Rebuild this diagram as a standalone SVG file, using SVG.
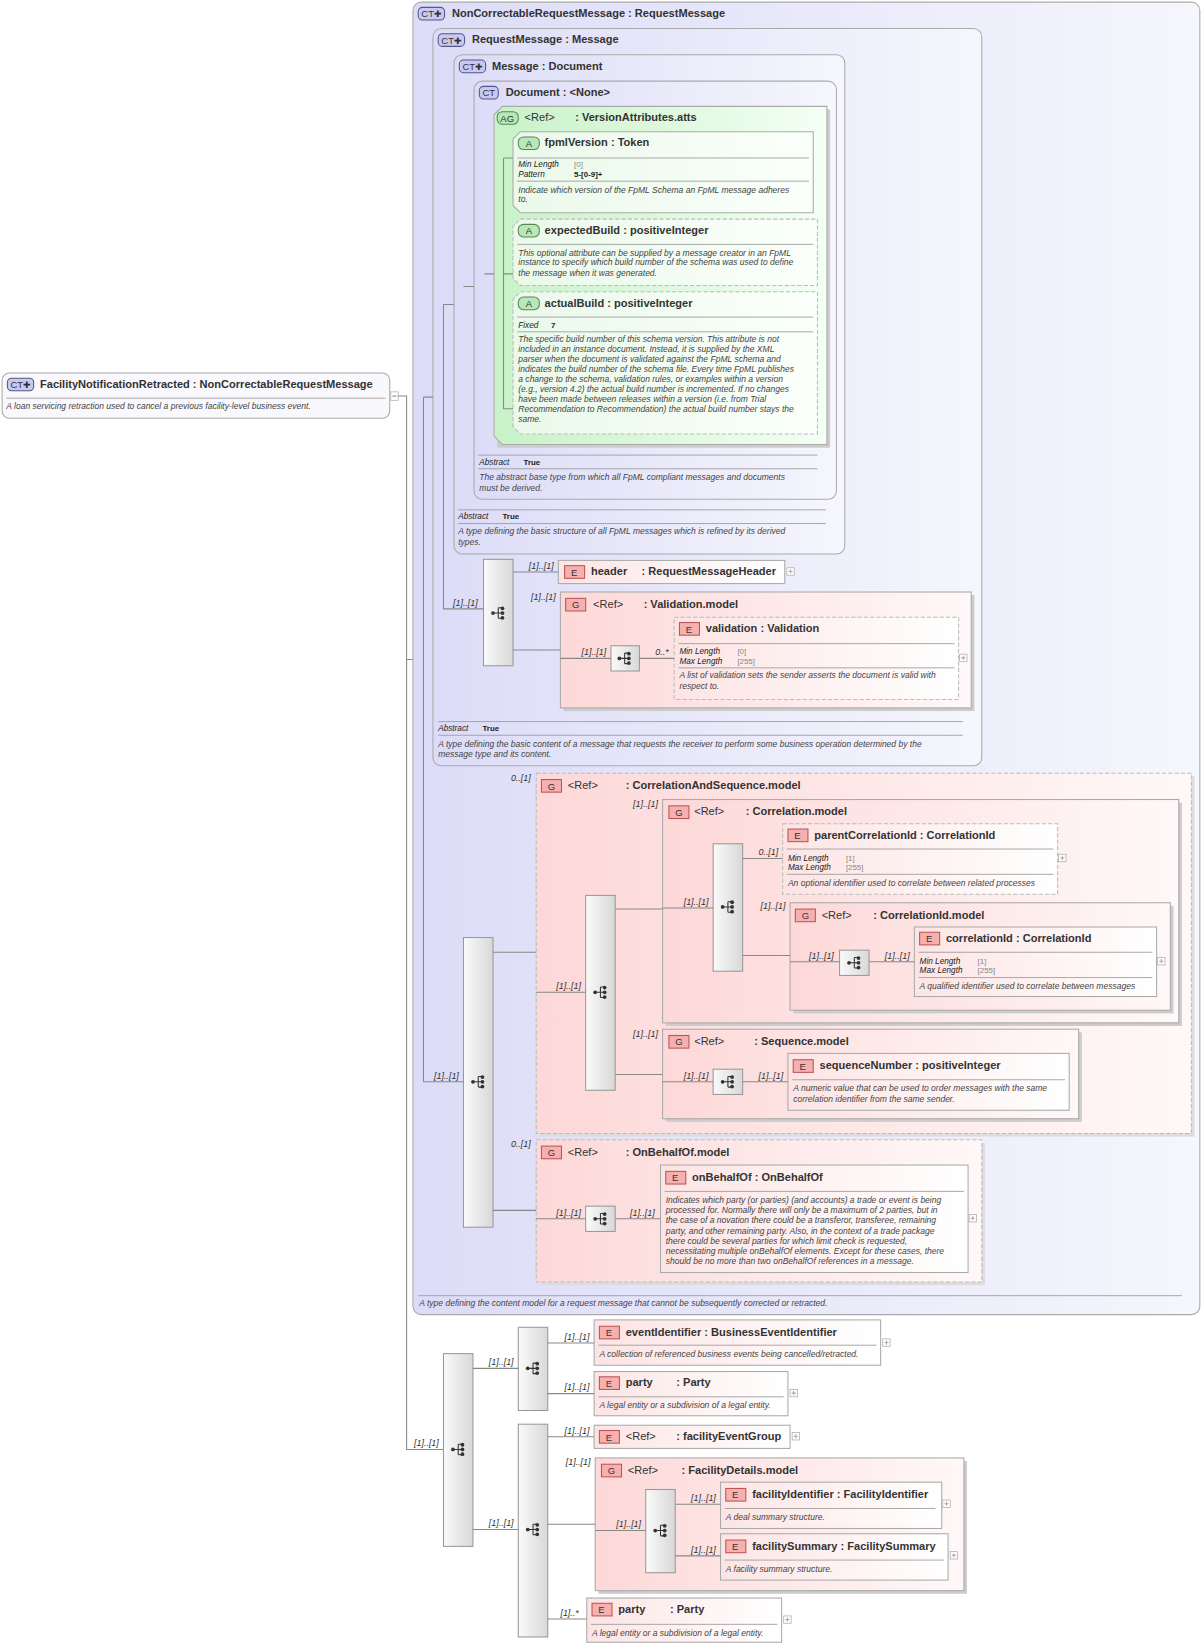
<svg xmlns="http://www.w3.org/2000/svg" width="1204" height="1650" viewBox="0 0 1204 1650">
<style>
text{font-family:"Liberation Sans",Arial,sans-serif;fill:#333}
.t{font-size:10.5px;font-weight:bold}
.d{font-size:8.1px;font-style:italic;fill:#444}
.k{font-size:7.8px;font-style:italic;fill:#222}
.v{font-size:7.5px;fill:#888}
.vb{font-size:7.5px;font-weight:bold;fill:#222}
.l{font-size:8.5px;font-style:italic;fill:#333}
.ct{fill:url(#gct);stroke:#aaa;stroke-width:1}
.ag{fill:url(#gag);stroke:#aaa}
.a{fill:url(#ga);stroke:#aaa}
.e{fill:url(#ge);stroke:#aaa}
.g{fill:url(#gg);stroke:#aaa}
.dash{stroke-dasharray:4,2;stroke:#bbb}
.s{fill:url(#gs);stroke:#999}
.sep{stroke:#999;stroke-width:0.8}
.c line,.c path{stroke:#888;stroke-width:1;fill:none}
.bE{fill:#f6b0b0;stroke:#b55}
.bA{fill:#b8e8b8;stroke:#585}
.bC{fill:#c8c8f0;stroke:#558}
.pl{fill:#fff;stroke:#aaa;stroke-width:.7}
.bt{font-size:9px;fill:#333}
</style>
<defs>
<linearGradient id="gct" x1="0" x2="1"><stop offset="0" stop-color="#dcdcf8"/><stop offset="1" stop-color="#f6f6fd"/></linearGradient>
<linearGradient id="gag" x1="0" x2="1"><stop offset="0" stop-color="#c8f2c8"/><stop offset="1" stop-color="#f4fff4"/></linearGradient>
<linearGradient id="ga" x1="0" x2="1"><stop offset="0" stop-color="#eaf9ea"/><stop offset="1" stop-color="#fbfffb"/></linearGradient>
<linearGradient id="ge" x1="0" x2="1"><stop offset="0" stop-color="#fde4e4"/><stop offset="1" stop-color="#ffffff"/></linearGradient>
<linearGradient id="gg" x1="0" x2="1"><stop offset="0" stop-color="#fdd8d8"/><stop offset="1" stop-color="#fff8f8"/></linearGradient>
<linearGradient id="gs" x1="0" x2="1"><stop offset="0" stop-color="#fafafa"/><stop offset="1" stop-color="#d8d8d8"/></linearGradient>
<symbol id="si" viewBox="0 0 14 12" width="14" height="12" overflow="visible"><circle cx="2" cy="6" r="1.8" fill="#333"/><path d="M2 6H7M7 1V11M7 1H10M7 6H10M7 11H10" stroke="#333" fill="none"/><circle cx="11" cy="1.5" r="1.8" fill="#333"/><circle cx="11" cy="6" r="1.8" fill="#333"/><circle cx="11" cy="10.5" r="1.8" fill="#333"/></symbol>
</defs>
<g transform="scale(1.0534)">
<g id="root">
<rect x="2" y="354" width="368" height="43" rx="7" style="fill:#f8f8fd;stroke:#aaa"/>
<rect x="7" y="359" width="25" height="12" rx="4" class="bC"/><text x="10" y="368.5" class="bt">CT✚</text>
<text x="38" y="368" class="t">FacilityNotificationRetracted : NonCorrectableRequestMessage</text>
<line x1="6" y1="378" x2="366" y2="378" class="sep"/>
<text x="6" y="388" class="d">A loan servicing retraction used to cancel a previous facility-level business event.</text>
<rect x="371" y="372" width="7" height="8" class="pl"/><path d="M372.5 376H376.5" stroke="#888"/>
</g>
<g id="NonCorrectableRequestMessage">
<rect x="392" y="2" width="747" height="1246" rx="8" class="ct"/>
<rect x="397" y="7" width="25" height="12" rx="4" class="bC"/><text x="400" y="16.5" class="bt">CT✚</text>
<text x="429" y="16" class="t">NonCorrectableRequestMessage : RequestMessage</text>
<line x1="397" y1="1230" x2="1122" y2="1230" class="sep"/>
<text x="398" y="1240" class="d">A type defining the content model for a request message that cannot be subsequently corrected or retracted.</text>
</g>
<g id="RequestMessage">
<rect x="411" y="27" width="521" height="700" rx="8" class="ct"/>
<rect x="416" y="32" width="25" height="12" rx="4" class="bC"/><text x="419" y="41.5" class="bt">CT✚</text>
<text x="448" y="41" class="t">RequestMessage : Message</text>
<line x1="416" y1="685" x2="914" y2="685" class="sep"/>
<text x="416" y="694" class="k">Abstract</text><text x="458" y="694" class="vb">True</text>
<line x1="416" y1="698" x2="914" y2="698" class="sep"/>
<text x="416" y="709" class="d">A type defining the basic content of a message that requests the receiver to perform some business operation determined by the</text>
<text x="416" y="719" class="d">message type and its content.</text>
</g>
<g id="Message">
<rect x="431" y="52" width="371" height="474" rx="8" class="ct"/>
<rect x="436" y="57" width="25" height="12" rx="4" class="bC"/><text x="439" y="66.5" class="bt">CT✚</text>
<text x="467" y="66" class="t">Message : Document</text>
<line x1="435" y1="484" x2="784" y2="484" class="sep"/>
<text x="435" y="493" class="k">Abstract</text><text x="477" y="493" class="vb">True</text>
<line x1="435" y1="497" x2="784" y2="497" class="sep"/>
<text x="435" y="507" class="d">A type defining the basic structure of all FpML messages which is refined by its derived</text>
<text x="435" y="517" class="d">types.</text>
</g>
<g id="Document">
<rect x="450" y="77" width="344" height="397" rx="8" class="ct"/>
<rect x="455" y="82" width="18" height="12" rx="4" class="bC"/><text x="458" y="91.5" class="bt">CT</text>
<text x="480" y="91" class="t">Document : &lt;None&gt;</text>
<line x1="454" y1="432" x2="776" y2="432" class="sep"/>
<text x="455" y="441" class="k">Abstract</text><text x="497" y="441" class="vb">True</text>
<line x1="454" y1="445" x2="776" y2="445" class="sep"/>
<text x="455" y="456" class="d">The abstract base type from which all FpML compliant messages and documents</text>
<text x="455" y="466" class="d">must be derived.</text>
</g>
<g id="VersionAttributes">
<rect x="472" y="104" width="316" height="321" fill="#ccc"/>
<path d="M477 101H785V422H477L469 414V109Z" class="ag"/>
<rect x="472" y="106" width="20" height="12" rx="5" class="bA"/><text x="475" y="115.5" class="bt">AG</text>
<text x="498" y="115" class="t" style="font-weight:normal">&lt;Ref&gt;</text><text x="546" y="115" class="t">: VersionAttributes.atts</text>
</g>
<g id="fpmlVersion">
<path d="M494 125H772V202H494L487 195V132Z" class="a"/>
<rect x="492" y="130" width="20" height="12" rx="5" class="bA"/><text x="499" y="139.5" class="bt">A</text>
<text x="517" y="139" class="t">fpmlVersion : Token</text>
<line x1="491" y1="150" x2="768" y2="150" class="sep"/>
<text x="492" y="159" class="k">Min Length</text><text x="545" y="159" class="v">[0]</text>
<text x="492" y="168" class="k">Pattern</text><text x="545" y="168" class="vb">5-[0-9]+</text>
<line x1="491" y1="172" x2="768" y2="172" class="sep"/>
<text x="492" y="183" class="d">Indicate which version of the FpML Schema an FpML message adheres</text>
<text x="492" y="192" class="d">to.</text>
</g>
<g id="expectedBuild">
<path d="M494 208H776V271H494L487 264V215Z" class="a dash"/>
<rect x="492" y="213" width="20" height="12" rx="5" class="bA"/><text x="499" y="222.5" class="bt">A</text>
<text x="517" y="222" class="t">expectedBuild : positiveInteger</text>
<line x1="491" y1="232" x2="772" y2="232" class="sep"/>
<text x="492" y="243" class="d">This optional attribute can be supplied by a message creator in an FpML</text>
<text x="492" y="252" class="d">instance to specify which build number of the schema was used to define</text>
<text x="492" y="262" class="d">the message when it was generated.</text>
</g>
<g id="actualBuild">
<path d="M494 277H776V412H494L487 405V284Z" class="a dash"/>
<rect x="492" y="282" width="20" height="12" rx="5" class="bA"/><text x="499" y="291.5" class="bt">A</text>
<text x="517" y="291" class="t">actualBuild : positiveInteger</text>
<line x1="491" y1="301" x2="772" y2="301" class="sep"/>
<text x="492" y="311" class="k">Fixed</text><text x="523" y="311" class="vb">7</text>
<line x1="491" y1="315" x2="772" y2="315" class="sep"/>
<text x="492" y="325" class="d">The specific build number of this schema version. This attribute is not</text>
<text x="492" y="334.5" class="d">included in an instance document. Instead, it is supplied by the XML</text>
<text x="492" y="344" class="d">parser when the document is validated against the FpML schema and</text>
<text x="492" y="353.5" class="d">indicates the build number of the schema file. Every time FpML publishes</text>
<text x="492" y="363" class="d">a change to the schema, validation rules, or examples within a version</text>
<text x="492" y="372.5" class="d">(e.g., version 4.2) the actual build number is incremented. If no changes</text>
<text x="492" y="382" class="d">have been made between releases within a version (i.e. from Trial</text>
<text x="492" y="391.5" class="d">Recommendation to Recommendation) the actual build number stays the</text>
<text x="492" y="401" class="d">same.</text>
</g>
<g id="seqRM"><rect x="459" y="531" width="28" height="101" class="s"/><use href="#si" x="466" y="576"/><text x="430" y="575" class="l">[1]..[1]</text></g>
<g id="header">
<text x="502" y="540" class="l">[1]..[1]</text>
<rect x="530" y="532" width="215" height="22" class="e"/>
<rect x="536" y="537" width="19" height="12" class="bE"/><text x="542" y="546.5" class="bt">E</text>
<text x="561" y="546" class="t">header</text><text x="609" y="546" class="t">: RequestMessageHeader</text>
<rect x="747" y="539" width="7" height="7" class="pl"/><path d="M748.5 542.5H752.5M750.5 540.5V544.5" stroke="#aaa"/>
</g>
<g id="ValidationModel">
<text x="504" y="570" class="l">[1]..[1]</text>
<rect x="535" y="565" width="390" height="110" fill="#ccc"/>
<rect x="532" y="562" width="390" height="110" class="g"/>
<rect x="537" y="568" width="19" height="12" class="bE"/><text x="543" y="577.5" class="bt">G</text>
<text x="563" y="577" class="t" style="font-weight:normal">&lt;Ref&gt;</text><text x="611" y="577" class="t">: Validation.model</text>
<rect x="580" y="613" width="27" height="24" class="s"/><use href="#si" x="586" y="619"/>
<text x="552" y="622" class="l">[1]..[1]</text><text x="622" y="622" class="l">0..*</text>
<rect x="640" y="586" width="270" height="78" class="e dash"/>
<rect x="645" y="591" width="19" height="12" class="bE"/><text x="651" y="600.5" class="bt">E</text>
<text x="670" y="600" class="t">validation : Validation</text>
<line x1="644" y1="611" x2="906" y2="611" class="sep"/>
<text x="645" y="621" class="k">Min Length</text><text x="700" y="621" class="v">[0]</text>
<text x="645" y="630" class="k">Max Length</text><text x="700" y="630" class="v">[255]</text>
<line x1="644" y1="634" x2="906" y2="634" class="sep"/>
<text x="645" y="644" class="d">A list of validation sets the sender asserts the document is valid with</text>
<text x="645" y="654" class="d">respect to.</text>
<rect x="911" y="621" width="7" height="7" class="pl"/><path d="M912.5 624.5H916.5M914.5 622.5V626.5" stroke="#aaa"/>
</g>
<g id="seqNCR"><rect x="440" y="890" width="28" height="275" class="s"/><use href="#si" x="447" y="1021"/><text x="412" y="1024" class="l">[1]..[1]</text></g>
<g id="CorrelationAndSequence">
<text x="485" y="741" class="l">0..[1]</text>
<rect x="512" y="737" width="622" height="342" fill="#ddd"/>
<rect x="509" y="734" width="622" height="342" class="g dash"/>
<rect x="514" y="740" width="19" height="12" class="bE"/><text x="520" y="749.5" class="bt">G</text>
<text x="539" y="749" class="t" style="font-weight:normal">&lt;Ref&gt;</text><text x="594" y="749" class="t">: CorrelationAndSequence.model</text>
<rect x="556" y="850" width="28" height="185" class="s"/><use href="#si" x="563" y="936"/>
<text x="528" y="939" class="l">[1]..[1]</text>
</g>
<g id="CorrelationModel">
<text x="601" y="766" class="l">[1]..[1]</text>
<rect x="632" y="762" width="490" height="212" fill="#ccc"/>
<rect x="629" y="759" width="490" height="212" class="g"/>
<rect x="635" y="765" width="19" height="12" class="bE"/><text x="641" y="774.5" class="bt">G</text>
<text x="659" y="774" class="t" style="font-weight:normal">&lt;Ref&gt;</text><text x="708" y="774" class="t">: Correlation.model</text>
<rect x="677" y="801" width="28" height="121" class="s"/><use href="#si" x="684" y="855"/>
<text x="649" y="859" class="l">[1]..[1]</text>
<text x="720" y="812" class="l">0..[1]</text><text x="722" y="863" class="l">[1]..[1]</text>
</g>
<g id="parentCorrelationId">
<rect x="743" y="782" width="261" height="67" class="e dash"/>
<rect x="748" y="787" width="19" height="12" class="bE"/><text x="754" y="796.5" class="bt">E</text>
<text x="773" y="796" class="t">parentCorrelationId : CorrelationId</text>
<line x1="747" y1="806" x2="1000" y2="806" class="sep"/>
<text x="748" y="817" class="k">Min Length</text><text x="803" y="817" class="v">[1]</text>
<text x="748" y="826" class="k">Max Length</text><text x="803" y="826" class="v">[255]</text>
<line x1="747" y1="830" x2="1000" y2="830" class="sep"/>
<text x="748" y="841" class="d">An optional identifier used to correlate between related processes</text>
<rect x="1005" y="811" width="7" height="7" class="pl"/><path d="M1006.5 814.5H1010.5M1008.5 812.5V816.5" stroke="#aaa"/>
</g>
<g id="CorrelationIdModel">
<rect x="753" y="860" width="361" height="102" fill="#ccc"/>
<rect x="750" y="857" width="361" height="102" class="g"/>
<rect x="755" y="863" width="19" height="12" class="bE"/><text x="761" y="872.5" class="bt">G</text>
<text x="780" y="872" class="t" style="font-weight:normal">&lt;Ref&gt;</text><text x="829" y="872" class="t">: CorrelationId.model</text>
<rect x="797" y="902" width="28" height="24" class="s"/><use href="#si" x="804" y="908"/>
<text x="768" y="910" class="l">[1]..[1]</text><text x="840" y="910" class="l">[1]..[1]</text>
</g>
<g id="correlationId">
<rect x="868" y="880" width="230" height="66" class="e"/>
<rect x="873" y="885" width="19" height="12" class="bE"/><text x="879" y="894.5" class="bt">E</text>
<text x="898" y="894" class="t">correlationId : CorrelationId</text>
<line x1="872" y1="904" x2="1094" y2="904" class="sep"/>
<text x="873" y="915" class="k">Min Length</text><text x="928" y="915" class="v">[1]</text>
<text x="873" y="924" class="k">Max Length</text><text x="928" y="924" class="v">[255]</text>
<line x1="872" y1="928" x2="1094" y2="928" class="sep"/>
<text x="873" y="939" class="d">A qualified identifier used to correlate between messages</text>
<rect x="1099" y="909" width="7" height="7" class="pl"/><path d="M1100.5 912.5H1104.5M1102.5 910.5V914.5" stroke="#aaa"/>
</g>
<g id="SequenceModel">
<text x="601" y="984" class="l">[1]..[1]</text>
<rect x="632" y="980" width="395" height="85" fill="#ccc"/>
<rect x="629" y="977" width="395" height="85" class="g"/>
<rect x="635" y="983" width="19" height="12" class="bE"/><text x="641" y="992.5" class="bt">G</text>
<text x="659" y="992" class="t" style="font-weight:normal">&lt;Ref&gt;</text><text x="716" y="992" class="t">: Sequence.model</text>
<rect x="677" y="1015" width="28" height="24" class="s"/><use href="#si" x="684" y="1021"/>
<text x="649" y="1024" class="l">[1]..[1]</text><text x="720" y="1024" class="l">[1]..[1]</text>
<rect x="748" y="1000" width="267" height="54" class="e"/>
<rect x="753" y="1006" width="19" height="12" class="bE"/><text x="759" y="1015.5" class="bt">E</text>
<text x="778" y="1015" class="t">sequenceNumber : positiveInteger</text>
<line x1="752" y1="1025" x2="1011" y2="1025" class="sep"/>
<text x="753" y="1036" class="d">A numeric value that can be used to order messages with the same</text>
<text x="753" y="1046" class="d">correlation identifier from the same sender.</text>
</g>
<g id="OnBehalfOfModel">
<text x="485" y="1089" class="l">0..[1]</text>
<rect x="512" y="1085" width="423" height="135" fill="#ddd"/>
<rect x="509" y="1082" width="423" height="135" class="g dash"/>
<rect x="514" y="1088" width="19" height="12" class="bE"/><text x="520" y="1097.5" class="bt">G</text>
<text x="539" y="1097" class="t" style="font-weight:normal">&lt;Ref&gt;</text><text x="594" y="1097" class="t">: OnBehalfOf.model</text>
<rect x="556" y="1145" width="28" height="24" class="s"/><use href="#si" x="563" y="1151"/>
<text x="528" y="1154" class="l">[1]..[1]</text><text x="598" y="1154" class="l">[1]..[1]</text>
<rect x="627" y="1106" width="292" height="102" class="e"/>
<rect x="632" y="1112" width="19" height="12" class="bE"/><text x="638" y="1121.5" class="bt">E</text>
<text x="657" y="1121" class="t">onBehalfOf : OnBehalfOf</text>
<line x1="631" y1="1131" x2="915" y2="1131" class="sep"/>
<text x="632" y="1142" class="d">Indicates which party (or parties) (and accounts) a trade or event is being</text>
<text x="632" y="1151.7" class="d">processed for. Normally there will only be a maximum of 2 parties, but in</text>
<text x="632" y="1161.4" class="d">the case of a novation there could be a transferor, transferee, remaining</text>
<text x="632" y="1171.1" class="d">party, and other remaining party. Also, in the context of a trade package</text>
<text x="632" y="1180.8" class="d">there could be several parties for which limit check is requested,</text>
<text x="632" y="1190.5" class="d">necessitating multiple onBehalfOf elements. Except for these cases, there</text>
<text x="632" y="1200.2" class="d">should be no more than two onBehalfOf references in a message.</text>
<rect x="920" y="1153" width="7" height="7" class="pl"/><path d="M921.5 1156.5H925.5M923.5 1154.5V1158.5" stroke="#aaa"/>
</g>
<g id="seqMain"><rect x="421" y="1285" width="28" height="183" class="s"/><use href="#si" x="428" y="1370"/><text x="393" y="1373" class="l">[1]..[1]</text></g>
<g id="seqA"><rect x="492" y="1260" width="28" height="79" class="s"/><use href="#si" x="499" y="1293"/><text x="464" y="1296" class="l">[1]..[1]</text></g>
<g id="eventIdentifier">
<text x="536" y="1272" class="l">[1]..[1]</text>
<rect x="564" y="1253" width="272" height="43" class="e"/>
<rect x="569" y="1259" width="19" height="12" class="bE"/><text x="575" y="1268.5" class="bt">E</text>
<text x="594" y="1268" class="t">eventIdentifier : BusinessEventIdentifier</text>
<line x1="568" y1="1277" x2="832" y2="1277" class="sep"/>
<text x="569" y="1288" class="d">A collection of referenced business events being cancelled/retracted.</text>
<rect x="838" y="1271" width="7" height="7" class="pl"/><path d="M839.5 1274.5H843.5M841.5 1272.5V1276.5" stroke="#aaa"/>
</g>
<g id="party1">
<text x="536" y="1320" class="l">[1]..[1]</text>
<rect x="564" y="1302" width="184" height="42" class="e"/>
<rect x="569" y="1307" width="19" height="12" class="bE"/><text x="575" y="1316.5" class="bt">E</text>
<text x="594" y="1316" class="t">party</text><text x="642" y="1316" class="t">: Party</text>
<line x1="568" y1="1326" x2="744" y2="1326" class="sep"/>
<text x="569" y="1337" class="d">A legal entity or a subdivision of a legal entity.</text>
<rect x="750" y="1319" width="7" height="7" class="pl"/><path d="M751.5 1322.5H755.5M753.5 1320.5V1324.5" stroke="#aaa"/>
</g>
<g id="seqB"><rect x="492" y="1352" width="28" height="202" class="s"/><use href="#si" x="499" y="1446"/><text x="464" y="1449" class="l">[1]..[1]</text></g>
<g id="facilityEventGroup">
<text x="536" y="1361" class="l">[1]..[1]</text>
<rect x="564" y="1353" width="186" height="22" class="e"/>
<rect x="569" y="1358" width="19" height="12" class="bE"/><text x="575" y="1367.5" class="bt">E</text>
<text x="594" y="1367" class="t" style="font-weight:normal">&lt;Ref&gt;</text><text x="642" y="1367" class="t">: facilityEventGroup</text>
<rect x="752" y="1360" width="7" height="7" class="pl"/><path d="M753.5 1363.5H757.5M755.5 1361.5V1365.5" stroke="#aaa"/>
</g>
<g id="FacilityDetailsModel">
<text x="537" y="1391" class="l">[1]..[1]</text>
<rect x="568" y="1387" width="350" height="126" fill="#ccc"/>
<rect x="565" y="1384" width="350" height="126" class="g"/>
<rect x="571" y="1390" width="19" height="12" class="bE"/><text x="577" y="1399.5" class="bt">G</text>
<text x="596" y="1399" class="t" style="font-weight:normal">&lt;Ref&gt;</text><text x="647" y="1399" class="t">: FacilityDetails.model</text>
<rect x="613" y="1414" width="28" height="79" class="s"/><use href="#si" x="620" y="1447"/>
<text x="585" y="1450" class="l">[1]..[1]</text>
<text x="656" y="1425" class="l">[1]..[1]</text><text x="656" y="1474" class="l">[1]..[1]</text>
<rect x="684" y="1407" width="210" height="44" class="e"/>
<rect x="689" y="1413" width="19" height="12" class="bE"/><text x="695" y="1422.5" class="bt">E</text>
<text x="714" y="1422" class="t">facilityIdentifier : FacilityIdentifier</text>
<line x1="688" y1="1432" x2="888" y2="1432" class="sep"/>
<text x="689" y="1443" class="d">A deal summary structure.</text>
<rect x="895" y="1424" width="7" height="7" class="pl"/><path d="M896.5 1427.5H900.5M898.5 1425.5V1429.5" stroke="#aaa"/>
<rect x="684" y="1456" width="216" height="44" class="e"/>
<rect x="689" y="1462" width="19" height="12" class="bE"/><text x="695" y="1471.5" class="bt">E</text>
<text x="714" y="1471" class="t">facilitySummary : FacilitySummary</text>
<line x1="688" y1="1481" x2="896" y2="1481" class="sep"/>
<text x="689" y="1492" class="d">A facility summary structure.</text>
<rect x="902" y="1473" width="7" height="7" class="pl"/><path d="M903.5 1476.5H907.5M905.5 1474.5V1478.5" stroke="#aaa"/>
</g>
<g id="party2">
<text x="532" y="1534" class="l">[1]..*</text>
<rect x="557" y="1517" width="185" height="42" class="e"/>
<rect x="562" y="1522" width="19" height="12" class="bE"/><text x="568" y="1531.5" class="bt">E</text>
<text x="587" y="1531" class="t">party</text><text x="636" y="1531" class="t">: Party</text>
<line x1="561" y1="1542" x2="738" y2="1542" class="sep"/>
<text x="562" y="1553" class="d">A legal entity or a subdivision of a legal entity.</text>
<rect x="744" y="1534" width="7" height="7" class="pl"/><path d="M745.5 1537.5H749.5M747.5 1535.5V1539.5" stroke="#aaa"/>
</g>
<g id="connectors" class="c">
<path d="M378 376H386V1376H421M386 626H392"/>
<path d="M402 377H411M402 377V1027H440M421 289H431M421 289V578H459M440 272H450M460 260H469"/>
<path d="M478 150H487M478 150V388H487M478 260H487"/>
<path d="M487 543H530M487 617H532M532 625H580M607 625H640"/>
<path d="M468 904H509M509 942H556M584 863H629M584 1020H629M629 862H677M705 815H743M705 907H750M750 913H797M825 913H868M629 1027H677M705 1027H748"/>
<path d="M468 1149H509M509 1157H556M584 1157H627"/>
<path d="M449 1299H492M449 1452H492M520 1275H564M520 1323H564M520 1364H564M520 1447H565M565 1453H613M641 1428H684M641 1477H684M520 1537H557"/>
</g>
</g>
</svg>
